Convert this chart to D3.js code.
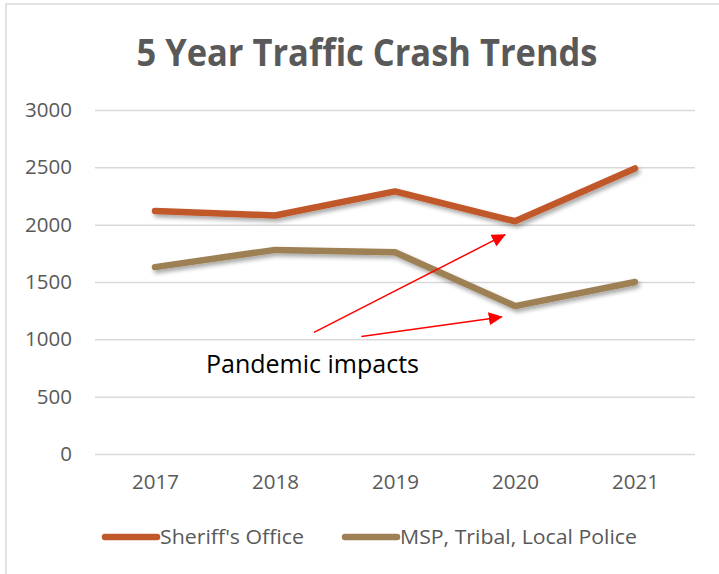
<!DOCTYPE html>
<html>
<head>
<meta charset="utf-8">
<script src="https://cdn.jsdelivr.net/npm/d3@7"></script>
<style>
  body { margin: 0; background: #fff; }
  text { font-family: "Open Sans", "Noto Sans", sans-serif; }
</style>
</head>
<body>
<div id="chart"></div>
<script>
// Chart data
var years = ["2017", "2018", "2019", "2020", "2021"];
var sheriffValues = [2120, 2080, 2290, 2030, 2490];
var policeValues = [1630, 1780, 1760, 1290, 1500];
var seriesNames = ["Sheriff's Office", "MSP, Tribal, Local Police"];
var yTicks = [0, 500, 1000, 1500, 2000, 2500, 3000];

// Annotation arrows, in (year index, value) terms
var arrowStarts = [[1.325, 1060], [1.72, 1025]];
var arrowEnds = [[2.917, 1913], [2.89, 1195]];
var noteText = "Pandemic impacts";
var notePos = [0.425, 709];

var W = 719, H = 574;
var margin = { top: 110, right: 24, bottom: 120, left: 95 };
var colors = ["#C0582C", "#9E8054"];

var svg = d3.select("#chart")
  .append("svg")
  .attr("width", W)
  .attr("height", H);

// Drop shadow for the lines
var defs = svg.append("defs");
var shadow = defs.append("filter")
  .attr("id", "shadow")
  .attr("x", "-10%").attr("y", "-20%")
  .attr("width", "130%").attr("height", "160%");
shadow.append("feDropShadow")
  .attr("dx", 2).attr("dy", 3)
  .attr("stdDeviation", 2)
  .attr("flood-color", "#000")
  .attr("flood-opacity", 0.35);

defs.append("marker")
  .attr("id", "arrow")
  .attr("markerUnits", "userSpaceOnUse")
  .attr("viewBox", "0 0 14 13")
  .attr("markerWidth", 14)
  .attr("markerHeight", 13)
  .attr("refX", 13)
  .attr("refY", 6.5)
  .attr("orient", "auto")
  .append("path")
  .attr("d", "M0,0 L14,6.5 L0,13 Z")
  .attr("fill", "#FF0000");

// Chart border (left and top edges visible)
svg.append("rect")
  .attr("x", 6).attr("y", 4)
  .attr("width", 900).attr("height", 900)
  .attr("fill", "none")
  .attr("stroke", "#d9d9d9")
  .attr("stroke-width", 1.5);

// Title
svg.append("text")
  .attr("x", 367)
  .attr("y", 66)
  .attr("text-anchor", "middle")
  .attr("font-size", 38)
  .attr("font-weight", "bold")
  .attr("fill", "#595959")
  .attr("textLength", 461)
  .attr("lengthAdjust", "spacingAndGlyphs")
  .text("5 Year Traffic Crash Trends");

// Scales
var x = d3.scalePoint()
  .domain(years)
  .range([margin.left, W - margin.right])
  .padding(0.5);

var xi = d3.scaleLinear()
  .domain([0, years.length - 1])
  .range([x(years[0]), x(years[years.length - 1])]);

var y = d3.scaleLinear()
  .domain([0, 3000])
  .range([454, 110]);

// Y axis with gridlines
var yAxis = svg.append("g")
  .attr("transform", "translate(" + margin.left + ",0)")
  .call(d3.axisLeft(y).tickValues(yTicks).tickFormat(d3.format("d"))
    .tickSize(-(W - margin.right - margin.left)).tickPadding(23));
yAxis.select(".domain").remove();
yAxis.selectAll(".tick line")
  .attr("stroke", "#d9d9d9")
  .attr("stroke-width", 1.5);
yAxis.selectAll(".tick text")
  .attr("font-size", 20.5)
  .attr("fill", "#595959")
  .style("font-family", "'Open Sans', sans-serif");

// X axis labels
var xAxis = svg.append("g")
  .attr("transform", "translate(0," + y(0) + ")")
  .call(d3.axisBottom(x).tickSize(0).tickPadding(20));
xAxis.select(".domain").remove();
xAxis.selectAll(".tick text")
  .attr("font-size", 20.5)
  .attr("fill", "#595959")
  .style("font-family", "'Open Sans', sans-serif");

// Lines
var line = d3.line()
  .x(function (d, i) { return x(years[i]); })
  .y(function (d) { return y(d); });

svg.selectAll(".series")
  .data([sheriffValues, policeValues])
  .join("path")
  .attr("class", "series")
  .attr("fill", "none")
  .attr("stroke", function (d, i) { return colors[i]; })
  .attr("stroke-width", 6.5)
  .attr("stroke-linecap", "round")
  .attr("stroke-linejoin", "round")
  .attr("filter", "url(#shadow)")
  .attr("d", line);

// Annotation arrows and text
svg.selectAll(".arrow")
  .data(arrowStarts)
  .join("line")
  .attr("class", "arrow")
  .attr("x1", function (d) { return xi(d[0]); })
  .attr("y1", function (d) { return y(d[1]); })
  .attr("x2", function (d, i) { return xi(arrowEnds[i][0]); })
  .attr("y2", function (d, i) { return y(arrowEnds[i][1]); })
  .attr("stroke", "#FF0000")
  .attr("stroke-width", 1.5)
  .attr("marker-end", "url(#arrow)");

svg.append("text")
  .attr("x", xi(notePos[0]))
  .attr("y", y(notePos[1]))
  .attr("font-size", 25)
  .attr("fill", "#000")
  .text(noteText);

// Legend
var legendX = [102, 342];
var legend = svg.selectAll(".legend")
  .data(seriesNames)
  .join("g")
  .attr("class", "legend")
  .attr("transform", function (d, i) { return "translate(" + legendX[i] + ",537)"; });

legend.append("line")
  .attr("x1", 3).attr("x2", 55)
  .attr("stroke", function (d, i) { return colors[i]; })
  .attr("stroke-width", 6.5)
  .attr("stroke-linecap", "round");

legend.append("text")
  .attr("x", 58)
  .attr("dy", "0.35em")
  .attr("font-size", 20.5)
  .attr("fill", "#595959")
  .attr("textLength", function (d, i) { return [144, 237][i]; })
  .attr("lengthAdjust", "spacingAndGlyphs")
  .text(function (d) { return d; });
</script>
</body>
</html>
